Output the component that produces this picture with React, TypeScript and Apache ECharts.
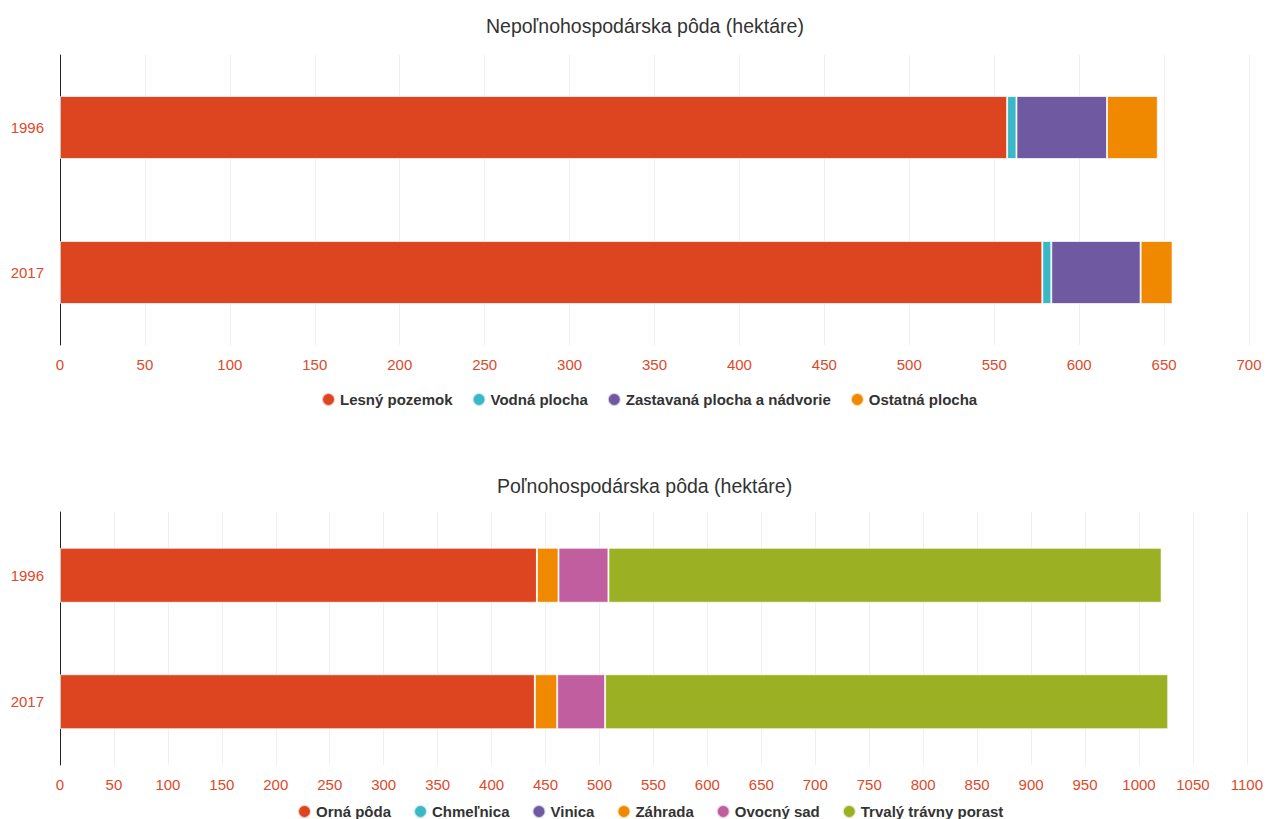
import React, { useEffect, useRef } from "react";
import * as echarts from "echarts";

const years = ["1996", "2017"];

const topTitle = "Nepoľnohospodárska pôda (hektáre)";
const topNames = ["Lesný pozemok", "Vodná plocha", "Zastavaná plocha a nádvorie", "Ostatná plocha"];
const topColors = ["#dc451f", "#3ab8c6", "#6f5aa2", "#f08800"];
const lesny = [557.6, 578.3];
const vodna = [5.5, 5.3];
const zastavana = [53.3, 52.6];
const ostatna = [29.9, 18.8];
const topValues = [lesny, vodna, zastavana, ostatna];

const bottomTitle = "Poľnohospodárska pôda (hektáre)";
const bottomNames = ["Orná pôda", "Chmeľnica", "Vinica", "Záhrada", "Ovocný sad", "Trvalý trávny porast"];
const bottomColors = ["#dc451f", "#3ab8c6", "#6f5aa2", "#f08800", "#c05e9f", "#9cb024"];
const orna = [442.0, 440.1];
const chmelnica = [0, 0];
const vinica = [0, 0];
const zahrada = [20.0, 20.7];
const ovocny = [46.3, 44.4];
const trvaly = [512.7, 521.9];
const bottomValues = [orna, chmelnica, vinica, zahrada, ovocny, trvaly];

const labelRed = "#dc4a2a";
const font = "Liberation Sans, Arial, sans-serif";

export default function App() {
  const ref = useRef<HTMLDivElement>(null);
  useEffect(() => {
    document.body.style.margin = "0";
    const chart = echarts.init(ref.current!, null, { renderer: "svg" });
    const xAxisBase = (idx: number, max: number, interval: number) => ({
      type: "value",
      gridIndex: idx,
      min: 0,
      max,
      interval,
      axisLine: { show: false },
      axisTick: { show: false },
      axisLabel: {
        color: labelRed,
        fontSize: 15,
        fontFamily: font,
        margin: 12,
        formatter: (v: number) => String(v),
      },
      splitLine: { show: true, lineStyle: { color: "#f0f0f0" } },
    });
    const yAxisBase = (idx: number) => ({
      type: "category",
      gridIndex: idx,
      data: years,
      inverse: true,
      axisLine: { show: true, lineStyle: { color: "#222", width: 1 } },
      axisTick: { show: false },
      axisLabel: { color: labelRed, fontSize: 15, fontFamily: font, margin: 16 },
    });
    const series: any[] = [];
    topNames.forEach((n, i) =>
      series.push({
        name: n,
        type: "bar",
        stack: "top",
        xAxisIndex: 0,
        yAxisIndex: 0,
        barWidth: 63,
        data: topValues[i],
        itemStyle: { color: topColors[i], borderColor: "rgba(255,255,255,0.7)", borderWidth: 1 },
      })
    );
    bottomNames.forEach((n, i) =>
      series.push({
        name: n,
        type: "bar",
        stack: "bottom",
        xAxisIndex: 1,
        yAxisIndex: 1,
        barWidth: 55,
        data: bottomValues[i],
        itemStyle: { color: bottomColors[i], borderColor: "rgba(255,255,255,0.7)", borderWidth: 1 },
      })
    );
    const legendText = { fontSize: 15, fontWeight: "bold", color: "#333", fontFamily: font };
    const titleText = { fontSize: 19.5, fontWeight: "normal", color: "#333", fontFamily: font };
    chart.setOption({
      animation: false,
      color: topColors,
      title: [
        { text: topTitle, left: 481, top: 11, padding: 5, textStyle: titleText },
        { text: bottomTitle, left: 492, top: 471, padding: 5, textStyle: titleText },
      ],
      legend: [
        {
          data: topNames.map((n, i) => ({ name: n, itemStyle: { color: topColors[i] } })),
          top: 392,
          padding: 0,
          left: 321,
          icon: "circle",
          itemWidth: 13,
          itemHeight: 13,
          itemGap: 19,
          textStyle: legendText,
        },
        {
          data: bottomNames.map((n, i) => ({ name: n, itemStyle: { color: bottomColors[i] } })),
          top: 804,
          padding: 0,
          left: 297,
          icon: "circle",
          itemWidth: 13,
          itemHeight: 13,
          itemGap: 22,
          textStyle: legendText,
        },
      ],
      grid: [
        { left: 60, right: 17, top: 55, height: 290 },
        { left: 60, right: 18, top: 512, height: 253 },
      ],
      xAxis: [xAxisBase(0, 700, 50), xAxisBase(1, 1100, 50)],
      yAxis: [yAxisBase(0), yAxisBase(1)],
      series,
    });
    return () => chart.dispose();
  }, []);
  return <div ref={ref} style={{ width: 1266, height: 819 }} />;
}
